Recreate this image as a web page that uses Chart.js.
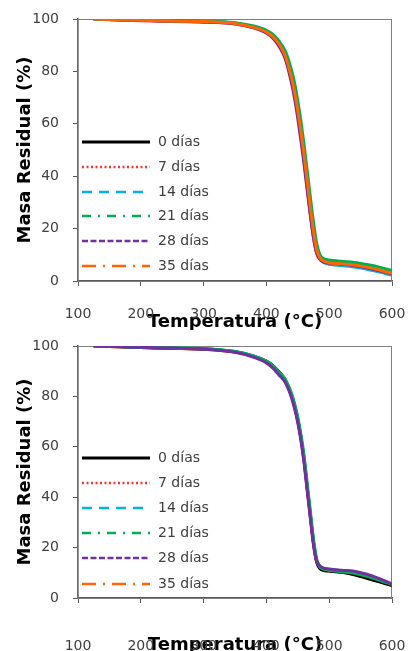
<!DOCTYPE html>
<html>
<head>
<meta charset="utf-8">
<script src="https://cdn.jsdelivr.net/npm/chart.js@4"></script>
<style>
  body { margin: 0; background: #fff; }
  .box { position: absolute; left: 0; width: 408px; }
</style>
</head>
<body>
<div class="box" style="top:0;height:330px"><canvas id="tgaA" width="408" height="330"></canvas></div>
<div class="box" style="top:330px;height:321px"><canvas id="tgaB" width="408" height="321"></canvas></div>
<script>
// Temperature (°C) shared by every curve
const temps = [125, 150, 200, 250, 300, 350, 380, 400, 410, 420, 430, 440, 445, 450, 455, 460, 465, 470, 475, 480, 485, 490, 500, 520, 540, 560, 580, 600];

const seriesLabels = ["0 días", "7 días", "14 días", "21 días", "28 días", "35 días"];

// Upper chart - residual mass (%)
const dia0A  = [100, 99.8, 99.5, 99.2, 99.0, 98.4, 96.9, 95.1, 93.4, 90.6, 86.2, 78.0, 72.5, 65.5, 57.5, 48.5, 38.5, 28.5, 19.5, 12.2, 9.0, 7.7, 6.9, 6.5, 6.0, 5.2, 4.1, 2.8];
const dia7A  = [100, 99.7, 99.3, 99.0, 98.8, 98.1, 96.6, 94.8, 93.0, 90.0, 85.3, 76.5, 70.8, 63.5, 55.0, 46.0, 35.5, 25.5, 16.5, 10.5, 8.3, 7.4, 6.8, 6.4, 5.9, 5.1, 4.0, 2.7];
const dia14A = [100, 99.8, 99.5, 99.2, 99.0, 98.4, 97.0, 95.2, 93.6, 90.8, 86.5, 78.2, 72.8, 65.8, 57.8, 48.8, 39.0, 29.0, 19.8, 12.0, 8.6, 7.2, 6.4, 5.9, 5.3, 4.5, 3.4, 2.2];
const dia21A = [100, 99.8, 99.6, 99.3, 99.1, 98.6, 97.3, 95.7, 94.2, 91.6, 87.8, 80.5, 75.5, 68.8, 61.0, 52.0, 42.0, 32.0, 22.5, 14.5, 10.2, 8.7, 8.0, 7.5, 7.1, 6.3, 5.3, 4.0];
const dia28A = [100, 99.8, 99.5, 99.2, 98.9, 98.2, 96.6, 94.6, 92.8, 89.6, 84.8, 75.5, 69.5, 62.0, 53.5, 44.5, 34.5, 25.0, 16.5, 10.8, 8.4, 7.4, 6.9, 6.5, 5.9, 5.0, 3.9, 2.7];
const dia35A = [100, 99.8, 99.5, 99.2, 99.0, 98.3, 96.8, 95.0, 93.3, 90.5, 86.0, 77.5, 72.0, 65.0, 57.0, 48.0, 38.0, 28.0, 19.0, 12.0, 9.0, 7.8, 7.0, 6.6, 6.1, 5.3, 4.2, 2.9];

// Lower chart - residual mass (%)
const dia0B  = [100, 99.8, 99.4, 99.1, 98.8, 97.7, 96.0, 94.0, 92.3, 89.8, 86.6, 80.6, 76.2, 70.8, 63.8, 55.0, 44.0, 33.0, 22.0, 14.5, 11.8, 11.0, 10.7, 10.2, 9.2, 7.8, 6.4, 5.0];
const dia7B  = [100, 99.8, 99.4, 99.1, 98.7, 97.6, 95.8, 93.7, 91.8, 89.2, 86.0, 80.0, 75.6, 70.2, 63.2, 54.3, 43.2, 32.2, 21.5, 14.2, 11.8, 11.1, 10.8, 10.3, 9.4, 8.0, 6.5, 4.8];
const dia14B = [100, 99.9, 99.5, 99.2, 98.9, 97.8, 96.0, 93.9, 92.0, 89.4, 86.4, 80.4, 76.0, 70.6, 63.6, 54.8, 43.8, 32.8, 22.0, 15.0, 12.4, 11.6, 11.2, 10.8, 10.2, 9.0, 7.4, 5.6];
const dia21B = [100, 99.9, 99.6, 99.3, 99.0, 97.8, 96.0, 94.0, 92.2, 89.6, 86.8, 81.2, 77.0, 71.8, 65.0, 56.5, 45.5, 34.5, 23.5, 15.5, 12.6, 11.6, 11.0, 10.4, 9.8, 8.6, 7.0, 5.3];
const dia28B = [100, 99.9, 99.5, 99.2, 98.8, 97.5, 95.5, 93.3, 91.3, 88.5, 85.5, 79.5, 75.0, 69.5, 62.5, 53.5, 42.5, 31.5, 21.0, 14.8, 12.8, 12.0, 11.5, 11.0, 10.6, 9.4, 7.7, 5.6];
const dia35B = [100, 99.8, 99.4, 99.1, 98.8, 97.7, 95.9, 93.8, 92.0, 89.5, 86.3, 80.3, 75.9, 70.5, 63.5, 54.6, 43.6, 32.6, 21.8, 14.5, 12.0, 11.2, 10.9, 10.4, 9.6, 8.2, 6.7, 5.0];

// Styles
const seriesColors = ["#000000", "#ff3030", "#00b0f0", "#00b050", "#7030a0", "#ff6600"];
const legendDashes = [[], [2, 2.5], [10, 7], [9, 7, 2, 7], [6, 2.5], [14, 7, 2, 7]];
const FONT = "'DejaVu Sans', sans-serif";

// box around the plot area (top/right edges)
const frame = {
  id: "frame",
  beforeDatasetsDraw(chart) {
    const { ctx, chartArea: a } = chart;
    ctx.save();
    ctx.strokeStyle = "#7f7f7f";
    ctx.lineWidth = 1;
    ctx.strokeRect(a.left, a.top + 0.5, a.right - a.left - 0.5, a.bottom - a.top);
    ctx.restore();
  }
};

// legend drawn inside the plot, bottom left, like the original
const inlineLegend = {
  id: "inlineLegend",
  afterDatasetsDraw(chart, args, opts) {
    const ctx = chart.ctx;
    ctx.save();
    chart.data.datasets.forEach((ds, i) => {
      const y = opts.rows[i];
      ctx.beginPath();
      ctx.setLineDash(ds.legendDash);
      ctx.strokeStyle = ds.borderColor;
      ctx.lineWidth = i === 0 ? 3 : 2.5;
      ctx.moveTo(82, y);
      ctx.lineTo(150, y);
      ctx.stroke();
      ctx.setLineDash([]);
      ctx.fillStyle = "#404040";
      ctx.font = "14px " + FONT;
      ctx.textBaseline = "middle";
      ctx.fillText(ds.label, 158, y);
    });
    ctx.restore();
  }
};

function makeChart(id, series, cfg) {
  return new Chart(document.getElementById(id), {
    type: "line",
    data: {
      datasets: series.map((values, i) => ({
        label: seriesLabels[i],
        data: temps.map((t, k) => ({ x: t, y: values[k] })),
        borderColor: seriesColors[i],
        borderWidth: 3,
        pointRadius: 0,
        fill: false,
        cubicInterpolationMode: "monotone",
        order: cfg.order[i],
        legendDash: legendDashes[i]
      }))
    },
    options: {
      responsive: false,
      animation: false,
      layout: { padding: { top: cfg.top, right: 16, left: 0, bottom: 0 } },
      plugins: {
        legend: { display: false },
        tooltip: { enabled: false },
        inlineLegend: { rows: cfg.rows }
      },
      scales: {
        x: {
          type: "linear",
          min: 100,
          max: 600,
          ticks: { stepSize: 100, padding: cfg.xPad, color: "#404040", font: { family: FONT, size: 14 } },
          grid: { drawOnChartArea: false, tickLength: 5, color: "#595959" },
          border: { color: "#595959", width: 1.5 },
          title: {
            display: true,
            text: "Temperatura (°C)",
            color: "#000",
            font: { family: FONT, size: 18, weight: "bold", lineHeight: 1 },
            padding: { top: 0, bottom: cfg.titlePad }
          },
          afterFit: (s) => { s.height = cfg.xHeight; s.paddingLeft = 0; s.paddingRight = 0; }
        },
        y: {
          min: 0,
          max: 100,
          ticks: { stepSize: 20, padding: 14, color: "#404040", font: { family: FONT, size: 14 } },
          grid: { drawOnChartArea: false, tickLength: 5, color: "#595959" },
          border: { color: "#595959", width: 1.5 },
          title: {
            display: true,
            text: "Masa Residual (%)",
            color: "#000",
            font: { family: FONT, size: 18, weight: "bold", lineHeight: 1 },
            padding: { top: 16, bottom: 0 }
          },
          afterFit: (s) => { s.width = 78; s.paddingTop = 0; s.paddingBottom = 0; }
        }
      }
    },
    plugins: [frame, inlineLegend]
  });
}

makeChart("tgaA", [dia0A, dia7A, dia14A, dia21A, dia28A, dia35A], {
  top: 19, xHeight: 49, xPad: 20, titlePad: -1,
  order: [5, 3, 4, 1, 2, 0],
  rows: [142, 167, 192, 216, 241, 266]
});

makeChart("tgaB", [dia0B, dia7B, dia14B, dia21B, dia28B, dia35B], {
  top: 16, xHeight: 53, xPad: 35, titlePad: -3,
  order: [3, 4, 2, 1, 0, 5],
  rows: [128, 153, 178, 203, 228, 254]
});
</script>
</body>
</html>
